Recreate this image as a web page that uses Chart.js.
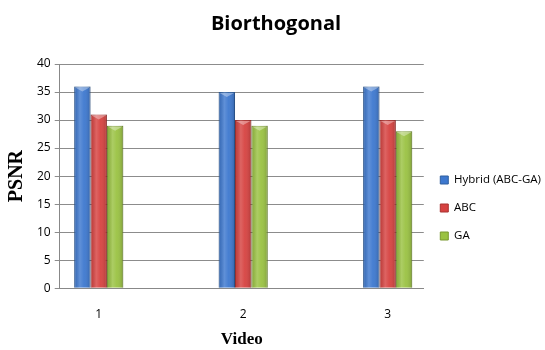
<!DOCTYPE html>
<html>
<head>
<meta charset="utf-8">
<script src="https://cdn.jsdelivr.net/npm/chart.js@4"></script>
<style>
  html, body { margin: 0; padding: 0; background: #fff; }
  #wrap { width: 545px; height: 350px; }
</style>
</head>
<body>
<div id="wrap"><canvas id="c" width="545" height="350"></canvas></div>
<script>
const categories = ['1', '2', '3'];
const hybrid = [36, 35, 36];
const abc = [31, 30, 30];
const ga = [29, 29, 28];
const seriesNames = ['Hybrid (ABC-GA)', 'ABC', 'GA'];
const yTicks = [0, 5, 10, 15, 20, 25, 30, 35, 40];

const colors = ['#3d78cf', '#d64240', '#9ac242'];
const borders = ['#2f5f9f', '#a83230', '#78982f'];

// Soft cylinder-like shading on each bar, drawn over the library's bar elements
const barShade = {
  id: 'barShade',
  afterDatasetsDraw(chart) {
    const ctx = chart.ctx;
    chart.data.datasets.forEach((ds, i) => {
      const meta = chart.getDatasetMeta(i);
      meta.data.forEach(bar => {
        const x0 = bar.x - bar.width / 2, x1 = bar.x + bar.width / 2;
        const g = ctx.createLinearGradient(x0, 0, x1, 0);
        g.addColorStop(0, 'rgba(0,0,0,0.12)');
        g.addColorStop(0.35, 'rgba(255,255,255,0.18)');
        g.addColorStop(0.6, 'rgba(255,255,255,0.05)');
        g.addColorStop(1, 'rgba(0,0,0,0.18)');
        ctx.save();
        ctx.fillStyle = g;
        ctx.fillRect(x0, bar.y, bar.width, bar.base - bar.y);
        ctx.fillStyle = 'rgba(255,255,255,0.35)';
        ctx.beginPath();
        ctx.moveTo(x0 + 1, bar.y + 1);
        ctx.lineTo(x1 - 1, bar.y + 1);
        ctx.lineTo(bar.x, bar.y + 5);
        ctx.closePath();
        ctx.fill();
        ctx.restore();
      });
    });
  }
};

// numeric positions of the categories along x
const toPoints = arr => arr.map((v, k) => ({ x: k + 1, y: v }));

new Chart(document.getElementById('c'), {
  type: 'bar',
  data: {
    datasets: [hybrid, abc, ga].map((d, i) => ({
      label: seriesNames[i],
      data: toPoints(d),
      backgroundColor: colors[i],
      borderColor: borders[i],
      borderWidth: 1,
      barPercentage: 1,
      categoryPercentage: 0.34
    }))
  },
  options: {
    responsive: false,
    animation: false,
    devicePixelRatio: 1,
    layout: { padding: { left: 1, right: -6, top: 2, bottom: 0 } },
    plugins: {
      title: {
        display: true,
        text: 'Biorthogonal',
        color: '#000',
        font: { family: 'Open Sans', size: 20, weight: 'bold' },
        padding: { top: 10, bottom: 28 }
      },
      legend: {
        position: 'right',
        align: 'center',
        title: { display: true, text: '', font: { size: 10 }, padding: { top: 52, bottom: 0 } },
        labels: {
          color: '#000',
          boxWidth: 8,
          boxHeight: 8,
          padding: 16.5,
          font: { family: 'Open Sans', size: 11.5 }
        }
      },
      tooltip: { enabled: false }
    },
    scales: {
      x: {
        type: 'linear',
        offset: false,
        min: 0.73,
        max: 3.25,
        afterBuildTicks: axis => { axis.ticks = categories.map((c, k) => ({ value: k + 1 })); },
        grid: { display: false, drawTicks: false },
        border: { color: '#888' },
        ticks: {
          color: '#000',
          font: { family: 'Open Sans', size: 12 },
          padding: 19,
          callback: v => categories[v - 1]
        },
        title: {
          display: true,
          text: 'Video',
          color: '#000',
          font: { family: 'Liberation Serif', size: 17, weight: 'bold' },
          padding: { top: -11, bottom: 0 }
        }
      },
      y: {
        min: 0,
        max: 40,
        afterBuildTicks: axis => { axis.ticks = yTicks.map(v => ({ value: v })); },
        ticks: { color: '#000', font: { family: 'Open Sans', size: 12 }, padding: 4 },
        grid: { color: '#8c8c8c', tickLength: 5 },
        border: { color: '#888' },
        title: {
          display: true,
          text: 'PSNR',
          color: '#000',
          font: { family: 'Liberation Serif', size: 20, weight: 'bold' },
          padding: { bottom: 4 }
        }
      }
    }
  },
  plugins: [barShade]
});
</script>
</body>
</html>
